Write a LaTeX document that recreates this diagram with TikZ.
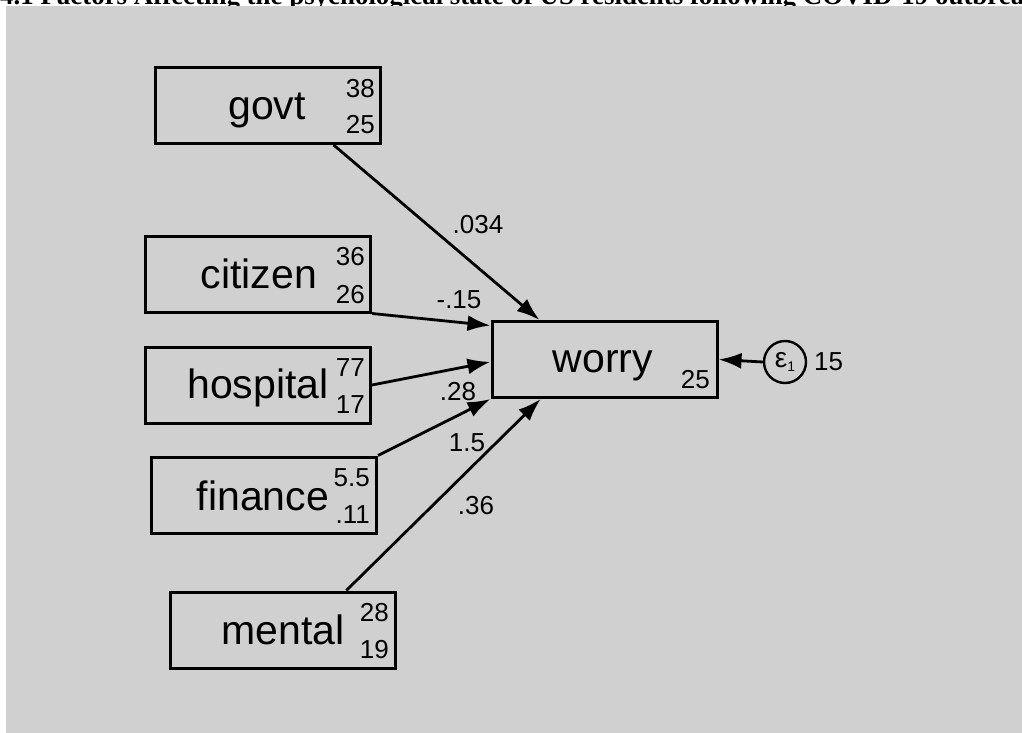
\documentclass[tikz,border=0pt]{standalone}
\usepackage{fontspec}
\setmainfont{Liberation Sans}
\newfontfamily\titlefont{Liberation Serif}
\usetikzlibrary{arrows.meta,calc}
\definecolor{bggray}{RGB}{208,208,208}
\begin{document}
\begin{tikzpicture}[x=1pt,y=-1pt,
  box/.style={draw=black,line width=3pt,minimum width=225pt,minimum height=76pt,inner sep=0pt},
  varname/.style={font=\fontsize{41}{41}\selectfont,anchor=base,inner sep=0pt},
  num/.style={font=\fontsize{26}{26}\selectfont,anchor=east,inner sep=0pt},
  coef/.style={font=\fontsize{26}{26}\selectfont,inner sep=0pt},
  path/.style={line width=2.8pt,-{Latex[length=23pt,width=16pt]}}]
\clip (0,0) rectangle (1022,733);
\node[anchor=base west,inner sep=0pt,font=\titlefont\bfseries\fontsize{26.9}{26.9}\selectfont] (title) at (0,5) {4.1 Factors Affecting the psychological state of US residents following COVID-19 outbreak};
\fill[bggray] (6,6) rectangle (1022,733);
% boxes
\node[box] (govt) at (267.5,105.5) {};
\node[box] (citizen) at (258,274) {};
\node[box] (hospital) at (258,385) {};
\node[box] (finance) at (264,495) {};
\node[box] (mental) at (282.5,630) {};
\node[box] (worry) at (604.5,359.5) {};
% names
\node[varname] (tgovt) at (267,120) {govt};
\node[varname] (tcitizen) at (259,288) {citizen};
\node[varname] (thospital) at (258,398) {hospital};
\node[varname] (tfinance) at (263,510) {finance};
\node[varname] (tmental) at (283,644) {mental};
\node[varname] (tworry) at (603,372) {worry};
% means / variances
\node[num] (g1) at (375,89) {38};
\node[num] (g2) at (375,125) {25};
\node[num] (c1) at (365,257) {36};
\node[num] (c2) at (365,295) {26};
\node[num] (h1) at (365,368) {77};
\node[num] (h2) at (365,405) {17};
\node[num] (f1) at (370,478) {5.5};
\node[num] (f2) at (370,515) {.11};
\node[num] (m1) at (389,613) {28};
\node[num] (m2) at (389,650) {19};
\node[num] (w1) at (710,380) {25};
% error term
\node[draw=black,line width=2.4pt,circle,minimum size=42pt,inner sep=0pt] (e1) at (785,362) {\fontsize{28}{28}\selectfont ε\raisebox{-4pt}{\fontsize{14}{14}\selectfont 1}};
\node[coef,anchor=west] (ev) at (814,362) {15};
% connectors
\draw[path] ($(govt.south west)!0.79!(govt.south east)$) -- ($(worry.north west)!0.215!(worry.north east)$);
\draw[path] (citizen.south east) -- ($(worry.north west)!0.07!(worry.south west)$);
\draw[path] (hospital.east) -- ($(worry.north west)!0.53!(worry.south west)$);
\draw[path] (finance.north east) -- (worry.south west);
\draw[path] ($(mental.north west)!0.78!(mental.north east)$) -- ($(worry.south west)!0.22!(worry.south east)$);
\draw[path] (e1.west) -- (worry.east);
% coefficients
\node[coef] (l1) at (478,225) {.034};
\node[coef] (l2) at (459,300) {-.15};
\node[coef] (l3) at (458,392) {.28};
\node[coef] (l4) at (467,443) {1.5};
\node[coef] (l5) at (476,506) {.36};
\end{tikzpicture}
\end{document}
